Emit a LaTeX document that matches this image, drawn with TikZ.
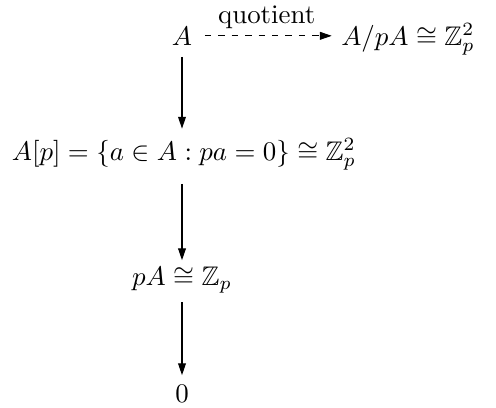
\documentclass[tikz,border=0pt]{standalone}
\usepackage{amssymb}
\usetikzlibrary{arrows.meta}
\begin{document}
\begin{tikzpicture}[x=0.372pt,y=-0.372pt,
  lbl/.style={anchor=base, inner sep=3.33pt},
  arr/.style={-{Triangle[length=4.4pt,width=2.9pt]}},
  darr/.style={arr, dash pattern=on 2.4pt off 2.6pt}]
\useasboundingbox (0,0) rectangle (496,407);
\node[lbl] (a) at (182,45) {$A$};
\node[lbl] (q) at (408,45) {$A/pA \cong \mathbb{Z}_p^2$};
\node[lbl] (ap) at (184,160) {$A[p] = \{a \in A : pa = 0\} \cong \mathbb{Z}_p^2$};
\node[lbl] (pa) at (182,285) {$pA \cong \mathbb{Z}_p$};
\node[lbl] (z) at (182,402) {$0$};
\draw[darr, shorten <=1.2pt] (a.east) -- (a.east -| q.west) node[midway, above, yshift=-0.8pt] {quotient};
\draw[arr, shorten <=0.9pt] (a) -- (a |- ap.north);
\draw[arr, shorten <=1.5pt, shorten >=-1.2pt] (ap.south -| pa) -- (pa);
\draw[arr] (pa) -- (z);
\end{tikzpicture}
\end{document}
